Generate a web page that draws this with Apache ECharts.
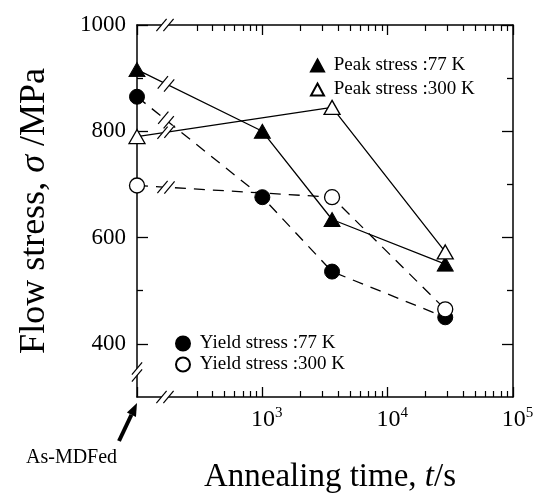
<!DOCTYPE html>
<html>
<head>
<meta charset="utf-8">
<script src="https://cdn.jsdelivr.net/npm/echarts@6/dist/echarts.min.js"></script>
<style>
  html, body { margin: 0; padding: 0; background: #fff; }
  #main { width: 540px; height: 499px; }
</style>
</head>
<body>
<div id="main"></div>
<script>
// 数据（时间 s, 应力 MPa），As-MDFed 点放在轴左端 t=100
var peak77Time = [100, 1000, 3600, 28800];
var peak77 = [916, 800, 634, 550];
var peak300Time = [100, 3600, 28800];
var peak300 = [790, 845, 573];
var yield77Time = [100, 1000, 3600, 28800];
var yield77 = [865, 676, 536, 450];
var yield300Time = [100, 3600, 28800];
var yield300 = [698, 676, 465];

var yMajor = [400, 600, 800, 1000];
var yMinor = [500, 700, 900];
var xMinor = [300, 400, 500, 600, 700, 800, 900,
              2000, 3000, 4000, 5000, 6000, 7000, 8000, 9000,
              20000, 30000, 40000, 50000, 60000, 70000, 80000, 90000];

var FONT = '"Liberation Serif", "DejaVu Serif", serif';

function pairs(xs, ys) {
    return xs.map(function (x, i) { return [x, ys[i]]; });
}

var myChart = echarts.init(document.getElementById('main'));

var xLog = xMinor.map(function (v) { return Math.log10(v); });

function majorX(pos, showLabel) {
    return {
        type: 'log', logBase: 10, min: 100, max: 100000, position: pos,
        gridIndex: 0,
        axisLine: { show: true, lineStyle: { color: '#000', width: 1.5 } },
        axisTick: { show: true, inside: true, length: 10, lineStyle: { color: '#000', width: 1.3 } },
        splitLine: { show: false },
        axisLabel: {
            show: showLabel, margin: 9, color: '#000',
            formatter: function (v) {
                if (v < 500) return '';
                return '{b|10}{s|' + Math.round(Math.log10(v)) + '}';
            },
            rich: {
                b: { fontSize: 24, fontFamily: FONT, color: '#000', padding: [0, 0, 0, 9] },
                s: { fontSize: 15, fontFamily: FONT, color: '#000', padding: [0, 0, 13, 0] }
            }
        }
    };
}
function minorX(pos) {
    return {
        type: 'value', min: 2, max: 5, position: pos,
        axisLine: { show: false },
        axisTick: { show: true, inside: true, length: 6, customValues: xLog, lineStyle: { color: '#000', width: 1.2 } },
        axisLabel: { show: false },
        splitLine: { show: false }
    };
}
function yAx(pos, ticks, len, showLine, showLabel) {
    return {
        type: 'value', min: 300, max: 1000, position: pos,
        axisLine: { show: showLine, lineStyle: { color: '#000', width: 1.5 } },
        axisTick: { show: true, inside: true, length: len, customValues: ticks, lineStyle: { color: '#000', width: 1.3 } },
        axisLabel: {
            show: showLabel, customValues: ticks, fontSize: 23, fontFamily: FONT, color: '#000', margin: 11,
            formatter: function (v) { return String(v); }
        },
        splitLine: { show: false }
    };
}

var y0 = yAx('left', yMajor, 11, true, true);
y0.name = 'Flow stress, {i|σ} /MPa';
y0.nameLocation = 'middle';
y0.nameGap = 84;
y0.nameTextStyle = {
    fontSize: 36, fontFamily: FONT, color: '#000',
    rich: { i: { fontSize: 36, fontFamily: FONT, fontStyle: 'italic', color: '#000' } }
};

var x0 = majorX('bottom', true);
x0.name = 'Annealing time, {i|t}/s';
x0.nameLocation = 'middle';
x0.nameGap = 64;
x0.nameTextStyle = {
    fontSize: 33, fontFamily: FONT, color: '#000', padding: [0, 0, 0, 10],
    rich: { i: { fontSize: 33, fontFamily: FONT, fontStyle: 'italic', color: '#000' } }
};

var solid = { color: '#000', width: 1.3, type: 'solid' };
var dashed = { color: '#000', width: 1.3, type: [11, 8] };
var filled = { color: '#000', borderColor: '#000', borderWidth: 1 };
var open = { color: '#fff', borderColor: '#000', borderWidth: 1.3 };

var legendText = { fontSize: 19, fontFamily: FONT, color: '#000' };

myChart.setOption({
    animation: false,
    backgroundColor: '#fff',
    grid: { left: 137, right: 27, top: 25, bottom: 99 },
    xAxis: [x0, minorX('bottom'), majorX('top', false), minorX('top')],
    yAxis: [y0, yAx('left', yMinor, 6, false, false), yAx('right', yMajor, 11, true, false), yAx('right', yMinor, 6, false, false)],
    legend: [{
        orient: 'vertical', left: 305, top: 51, itemWidth: 13, itemHeight: 12, itemGap: 5,
        textStyle: legendText,
        formatter: function (n) { return ' ' + n; },
        data: [{ name: 'Peak stress :77 K', icon: 'triangle' }, { name: 'Peak stress :300 K', icon: 'triangle' }]
    }, {
        orient: 'vertical', left: 170, top: 329, itemWidth: 14, itemHeight: 14, itemGap: 2,
        textStyle: legendText,
        formatter: function (n) { return ' ' + n; },
        data: [{ name: 'Yield stress :77 K', icon: 'circle' }, { name: 'Yield stress :300 K', icon: 'circle' }]
    }],
    series: [{
        name: 'Peak stress :77 K', type: 'line', data: pairs(peak77Time, peak77),
        symbol: 'triangle', symbolSize: [16, 14], itemStyle: filled, lineStyle: solid, z: 3
    }, {
        name: 'Peak stress :300 K', type: 'line', data: pairs(peak300Time, peak300),
        symbol: 'triangle', symbolSize: [16, 14], itemStyle: open, lineStyle: solid, z: 3
    }, {
        name: 'Yield stress :77 K', type: 'line', data: pairs(yield77Time, yield77),
        symbol: 'circle', symbolSize: 15, itemStyle: filled, lineStyle: dashed, z: 3
    }, {
        name: 'Yield stress :300 K', type: 'line', data: pairs(yield300Time, yield300),
        symbol: 'circle', symbolSize: 15, itemStyle: open, lineStyle: dashed, z: 3
    }]
});

// 断轴标记 "//"
function breakMark(cx, cy, ux, uy) {
    var sx = 0.64, sy = -0.77, h = 8, g = 3.5;
    var A = [cx - g * ux - h * sx, cy - g * uy - h * sy];
    var B = [cx - g * ux + h * sx, cy - g * uy + h * sy];
    var C = [cx + g * ux + h * sx, cy + g * uy + h * sy];
    var D = [cx + g * ux - h * sx, cy + g * uy - h * sy];
    return [
        { type: 'polygon', z: 100, shape: { points: [A, B, C, D] }, style: { fill: '#fff', stroke: null } },
        { type: 'line', z: 101, shape: { x1: A[0], y1: A[1], x2: B[0], y2: B[1] }, style: { stroke: '#000', lineWidth: 1.2 } },
        { type: 'line', z: 101, shape: { x1: D[0], y1: D[1], x2: C[0], y2: C[1] }, style: { stroke: '#000', lineWidth: 1.2 } }
    ];
}

var els = [];
var lt = myChart.convertToPixel({ xAxisIndex: 0, yAxisIndex: 0 }, [100, 1000]);
var lb = myChart.convertToPixel({ xAxisIndex: 0, yAxisIndex: 0 }, [100, 300]);
els = els.concat(breakMark(lt[0] + 28, lt[1], 1, 0));
els = els.concat(breakMark(lb[0] + 28, lb[1], 1, 0));
els = els.concat(breakMark(lb[0], lb[1] - 25, 0, -1));

var lineSets = [
    [peak77Time, peak77], [peak300Time, peak300], [yield77Time, yield77], [yield300Time, yield300]
];
lineSets.forEach(function (s, i) {
    var p0 = myChart.convertToPixel({ seriesIndex: i }, [s[0][0], s[1][0]]);
    var p1 = myChart.convertToPixel({ seriesIndex: i }, [s[0][1], s[1][1]]);
    var dx = p1[0] - p0[0], dy = p1[1] - p0[1];
    var len = Math.sqrt(dx * dx + dy * dy);
    var t = 29 / dx;
    els = els.concat(breakMark(p0[0] + dx * t, p0[1] + dy * t, dx / len, dy / len));
});

// As-MDFed 箭头
var tip = [lb[0], lb[1] + 6];
var tail = [tip[0] - 18, tip[1] + 38];
var al = Math.sqrt(18 * 18 + 38 * 38);
var ux = (tip[0] - tail[0]) / al, uy = (tip[1] - tail[1]) / al;
var bc = [tip[0] - 13 * ux, tip[1] - 13 * uy];
els.push({ type: 'line', z: 100, shape: { x1: tail[0], y1: tail[1], x2: bc[0], y2: bc[1] }, style: { stroke: '#000', lineWidth: 4 } });
els.push({ type: 'polygon', z: 100, shape: { points: [tip, [bc[0] - 5 * uy, bc[1] + 5 * ux], [bc[0] + 5 * uy, bc[1] - 5 * ux]] }, style: { fill: '#000' } });
els.push({ type: 'text', z: 100, left: 26, top: 448, style: { text: 'As-MDFed', fontSize: 20, fontFamily: FONT, fill: '#000' } });

myChart.setOption({ graphic: els });
</script>
</body>
</html>
